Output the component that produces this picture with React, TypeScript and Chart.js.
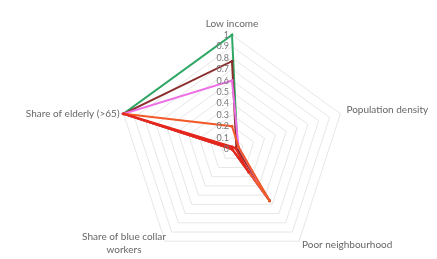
import React, { useEffect, useRef } from "react";
import { Chart, registerables } from "chart.js";

Chart.register(...registerables);

const categories = ["Low income", "Population density", "Poor neighbourhood", "Share of blue collar workers", "Share of elderly (>65)"];
const tickValues = [0, 0.1, 0.2, 0.3, 0.4, 0.5, 0.6, 0.7, 0.8, 0.9, 1];
const tickLabels = ["0", "0.1", "0.2", "0.3", "0.4", "0.5", "0.6", "0.7", "0.8", "0.9", "1"];

const seriesRed = [0.02, 0.03, 0.25, 0, 1];
const seriesOrange = [0.2, 0.06, 0.56, 0, 1];
const seriesPink = [0.6, 0.06, 0.5, 0, 1];
const seriesBrown = [0.77, 0.04, 0.56, 0, 1];
const seriesGreen = [1, 0.05, 0.56, 0, 1];

const FONT = "Lato, 'Liberation Sans', sans-serif";
const TEXT = "#666666";

const layoutPlugin = {
  id: "fixedLayout",
  afterLayout(chart: any) {
    const s = chart.scales.r;
    s.xCenter = 232;
    s.yCenter = 149;
    s.drawingArea = 114;
  },
  afterDraw(chart: any) {
    const s = chart.scales.r;
    const ctx = chart.ctx;
    ctx.save();
    ctx.fillStyle = "#777777";
    // tick labels
    ctx.font = "9px " + FONT;
    ctx.textAlign = "right";
    ctx.textBaseline = "middle";
    tickValues.forEach((v, i) => {
      const d = s.getDistanceFromCenterForValue(v);
      ctx.fillText(tickLabels[i], s.xCenter - 3, s.yCenter - d);
    });
    // point labels
    ctx.fillStyle = TEXT;
    ctx.font = "10px " + FONT;
    const R = s.drawingArea;
    const p0 = s.getPointPosition(0, R);
    ctx.textAlign = "center";
    ctx.textBaseline = "middle";
    ctx.fillText(categories[0], p0.x, p0.y - 11);
    const p1 = s.getPointPosition(1, R);
    ctx.textAlign = "left";
    ctx.fillText(categories[1], p1.x + 6, p1.y - 4);
    const p2 = s.getPointPosition(2, R);
    ctx.fillText(categories[2], p2.x + 3, p2.y + 4);
    const p3 = s.getPointPosition(3, R);
    ctx.textAlign = "center";
    ctx.fillText("Share of blue collar", p3.x - 41, p3.y - 4);
    ctx.fillText("workers", p3.x - 41, p3.y + 9);
    const p4 = s.getPointPosition(4, R);
    ctx.textAlign = "right";
    ctx.fillText(categories[4], p4.x - 4, p4.y);
    ctx.restore();
  },
};

export default function App() {
  const ref = useRef<HTMLCanvasElement>(null);
  useEffect(() => {
    document.body.style.margin = "0";
    const mk = (label: string, data: number[], color: string) => ({
      label,
      data,
      borderColor: color,
      backgroundColor: color,
      borderWidth: 2,
      pointRadius: 1.5,
      pointBorderWidth: 0,
      fill: false,
      tension: 0,
    });
    const chart = new Chart(ref.current!, {
      type: "radar",
      data: {
        labels: categories,
        datasets: [
          mk("Series 5", seriesRed, "#e4261c"),
          mk("Series 4", seriesOrange, "#f25a29"),
          mk("Series 3", seriesPink, "#ec6fe6"),
          mk("Series 2", seriesBrown, "#8c2d2d"),
          mk("Series 1", seriesGreen, "#2fa866"),
        ],
      },
      plugins: [layoutPlugin],
      options: {
        animation: false,
        responsive: false,
        plugins: { legend: { display: false }, tooltip: { enabled: false } },
        scales: {
          r: {
            min: 0,
            max: 1,
            ticks: { stepSize: 0.1, display: false },
            grid: { color: "#e6e6e6", lineWidth: 1 },
            angleLines: { display: false },
            pointLabels: { display: false },
          },
        },
      },
    });
    return () => chart.destroy();
  }, []);
  return <canvas ref={ref} width={437} height={259} style={{ display: "block" }} />;
}
